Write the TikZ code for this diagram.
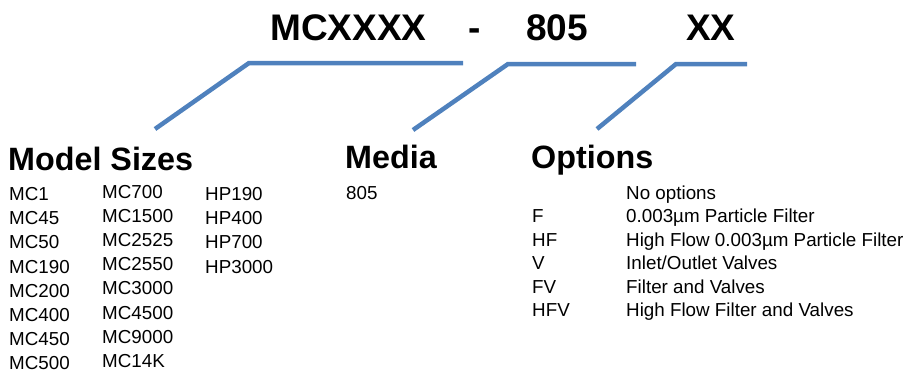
\documentclass[tikz,border=0pt]{standalone}
\usepackage{fontspec}
\setmainfont{Liberation Sans}
\usepackage{tikz}

\begin{document}
\begin{tikzpicture}[x=1pt, y=-1pt,
  codeText/.style={anchor=base west, inner sep=0pt, font=\fontsize{37}{44}\selectfont\bfseries},
  headText/.style={anchor=base west, inner sep=0pt, font=\fontsize{32.3}{38}\selectfont\bfseries},
  itemText/.style={anchor=base west, inner sep=0pt, font=\fontsize{18.8}{22}\selectfont},
  bracket/.style={draw=lineBlue, line width=4.5pt, line join=miter}]

% Colours
\definecolor{lineBlue}{HTML}{4F81BD}

% Page size (pixels of the reference)
\useasboundingbox (0,0) rectangle (904,375);

% Part number
\node[codeText] (mcx) at (270,40) {MCXXXX};
\node[codeText] (dash) at (468,40) {-};
\node[codeText] (medcode) at (526,40) {805};
\node[codeText] (optcode) at (686,40) {XX};

% Brackets from the part number down to the headings
\coordinate (msLow) at (155,129);
\coordinate (msBend) at (249,63);
\coordinate (msEnd) at (463,63);
\coordinate (mdLow) at (413,130);
\coordinate (mdBend) at (508,64);
\coordinate (mdEnd) at (636,64);
\coordinate (opLow) at (597,129);
\coordinate (opBend) at (676,64);
\coordinate (opEnd) at (747,64);

\draw[bracket] (msLow) -- (msBend) -- (msEnd);
\draw[bracket] (mdLow) -- (mdBend) -- (mdEnd);
\draw[bracket] (opLow) -- (opBend) -- (opEnd);

% Headings
\node[headText] (sizes) at (8,170) {Model Sizes};
\node[headText] (media) at (345,168) {Media};
\node[headText] (options) at (531,168) {Options};

% Model sizes, first column
\node[itemText] (mcA1) at (9,200.5) {MC1};
\node[itemText] (mcA2) at (9,224.7) {MC45};
\node[itemText] (mcA3) at (9,248.9) {MC50};
\node[itemText] (mcA4) at (9,273.1) {MC190};
\node[itemText] (mcA5) at (9,297.3) {MC200};
\node[itemText] (mcA6) at (9,321.5) {MC400};
\node[itemText] (mcA7) at (9,345.7) {MC450};
\node[itemText] (mcA8) at (9,369.9) {MC500};

% Model sizes, second column
\node[itemText] (mcB1) at (102,198) {MC700};
\node[itemText] (mcB2) at (102,222.2) {MC1500};
\node[itemText] (mcB3) at (102,246.4) {MC2525};
\node[itemText] (mcB4) at (102,270.6) {MC2550};
\node[itemText] (mcB5) at (102,294.8) {MC3000};
\node[itemText] (mcB6) at (102,319) {MC4500};
\node[itemText] (mcB7) at (102,343.2) {MC9000};
\node[itemText] (mcB8) at (102,367.4) {MC14K};

% Model sizes, third column
\node[itemText] (hpC1) at (205,200.5) {HP190};
\node[itemText] (hpC2) at (205,224.7) {HP400};
\node[itemText] (hpC3) at (205,248.9) {HP700};
\node[itemText] (hpC4) at (205,273.1) {HP3000};

% Media
\node[itemText] (media1) at (346,199) {805};

% Options: codes and descriptions
\node[itemText] (optD0) at (626,199) {No options};
\node[itemText] (optC1) at (532,222.5) {F};
\node[itemText] (optD1) at (626,222.5) {0.003µm Particle Filter};
\node[itemText] (optC2) at (532,246) {HF};
\node[itemText] (optD2) at (626,246) {High Flow 0.003µm Particle Filter};
\node[itemText] (optC3) at (532,269.5) {V};
\node[itemText] (optD3) at (626,269.5) {Inlet/Outlet Valves};
\node[itemText] (optC4) at (532,293) {FV};
\node[itemText] (optD4) at (626,293) {Filter and Valves};
\node[itemText] (optC5) at (532,316.5) {HFV};
\node[itemText] (optD5) at (626,316.5) {High Flow Filter and Valves};

\end{tikzpicture}
\end{document}
